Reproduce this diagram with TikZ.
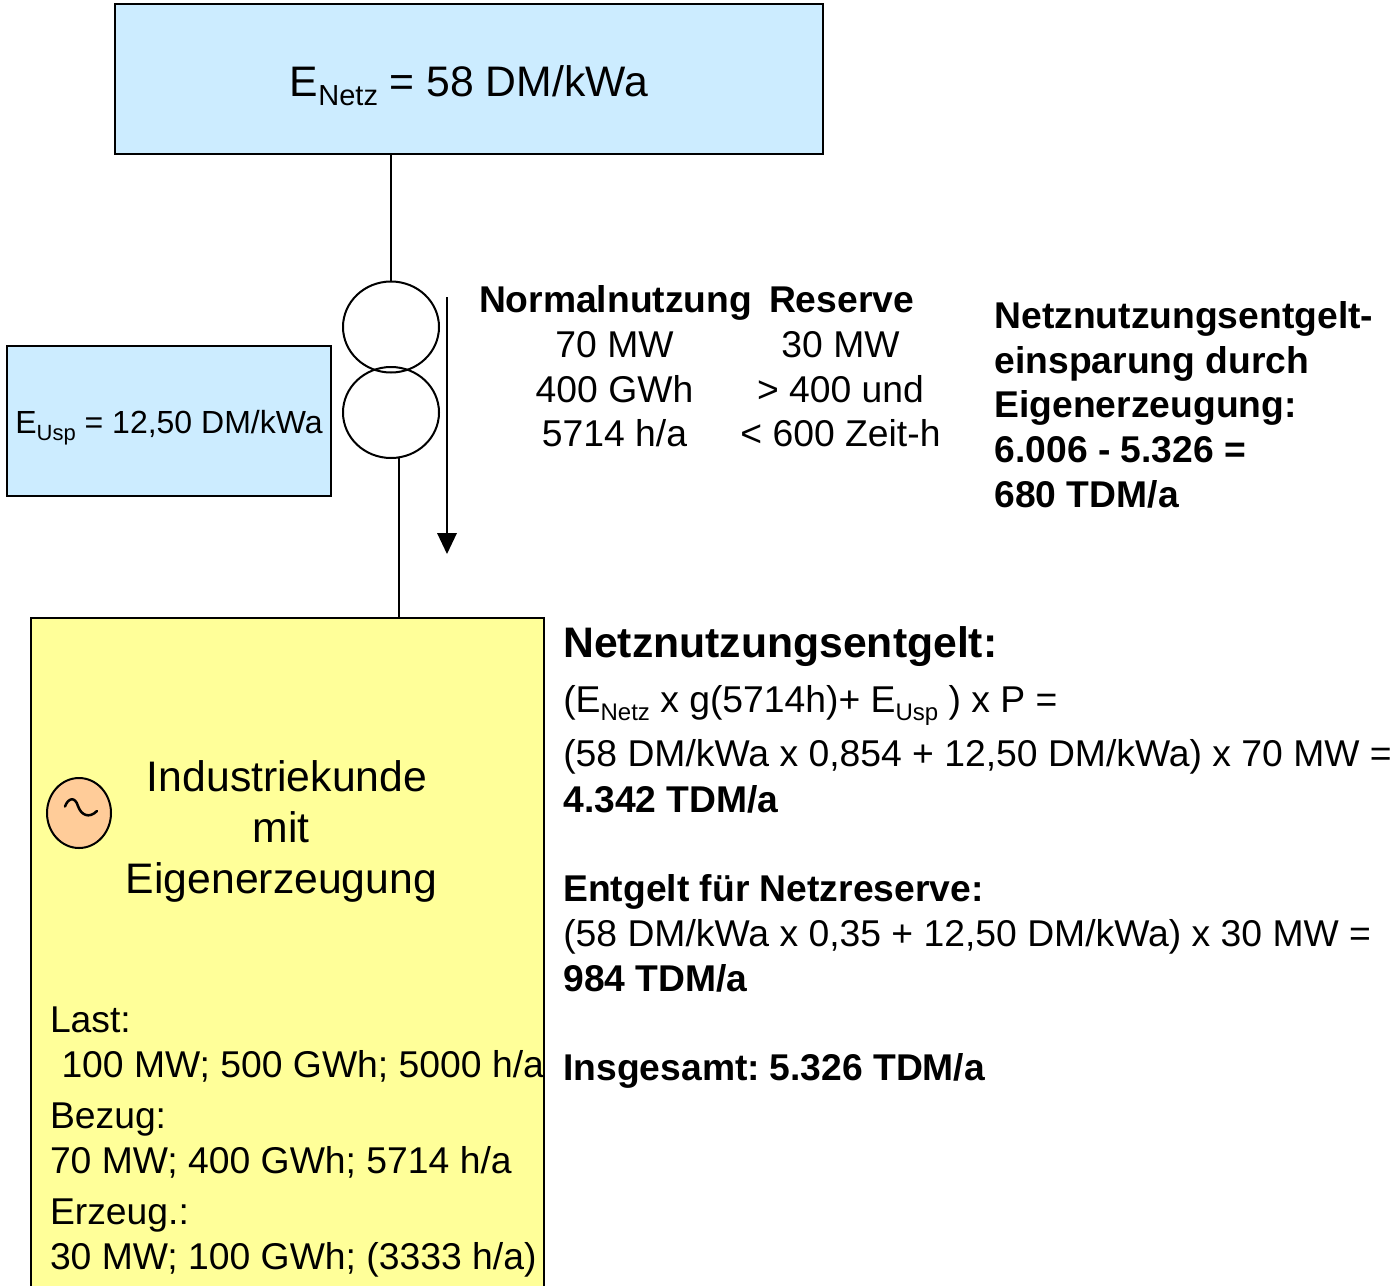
\documentclass[tikz,border=0pt]{standalone}
\usepackage{fontspec}
\usetikzlibrary{shapes.geometric}
\setmainfont{Liberation Sans}
\newcommand{\fs}[1]{\fontsize{#1}{#1}\selectfont}
\newcommand{\lsub}[1]{\raisebox{-0.22em}{\fontsize{29}{29}\selectfont #1}}
\newcommand{\msub}[1]{\raisebox{-0.22em}{\fontsize{24}{24}\selectfont #1}}
\newcommand{\ssub}[1]{\raisebox{-0.22em}{\fontsize{22}{22}\selectfont #1}}
\definecolor{boxblue}{RGB}{204,236,255}
\definecolor{boxyellow}{RGB}{255,255,153}
\definecolor{genfill}{RGB}{255,204,153}
\tikzset{
 x=1pt,y=-1pt,
 bluebox/.style={draw=black,line width=2pt,fill=boxblue},
 txt/.style={anchor=base west,inner sep=0pt,outer sep=0pt,font=\fs{37.3}},
 ctr/.style={anchor=base,inner sep=0pt,outer sep=0pt,font=\fs{37.3}},
 btxt/.style={txt,font=\fs{37.25}\bfseries},
 bctr/.style={ctr,font=\fs{37.25}\bfseries},
 big/.style={ctr,font=\fs{42.7}},
 line/.style={draw=black,line width=2pt},
 coil/.style={ellipse,draw=black,line width=2pt,minimum width=96pt,minimum height=91pt,inner sep=0pt}
}
\begin{document}
\begin{tikzpicture}
\useasboundingbox (0,0) rectangle (1399,1285);
\node[bluebox,minimum width=708pt,minimum height=150pt,inner sep=0pt] (netz) at (469,79) {};
\node[big] (netzt) at (469,96) {E\lsub{Netz} = 58 DM/kWa};
\node[bluebox,minimum width=324pt,minimum height=150pt,inner sep=0pt] (usp) at (169,420.8) {};
\node[ctr,font=\fs{32}] (uspt) at (169,433) {E\ssub{Usp} = 12,50 DM/kWa};
\node[coil] (c1) at (391,327) {};
\node[coil] (c2) at (391,412.5) {};
\draw[line] (netz.south -| c1.north) -- (c1.north);
\node[draw=black,line width=2pt,fill=boxyellow,minimum width=513pt,minimum height=680pt,inner sep=0pt] (kunde) at (287.3,958) {};
\coordinate (c2b) at (399,457.5);
\coordinate (ktop) at (399,618);
\draw[line] (c2b) -- (ktop);
\coordinate (as) at (447,297);
\coordinate (ae) at (447,534);
\draw[line] (as) -- (ae);
\fill[black] (437,533) -- (457,533) -- (447,554) -- cycle;
\node[bctr,anchor=base west] (a1) at (479,312) {Normalnutzung};
\node[bctr,anchor=base west] (a2) at (769,312) {Reserve};
\node[ctr] (n1) at (614.5,357) {70 MW};
\node[ctr] (n2) at (614.5,402) {400 GWh};
\node[ctr] (n3) at (614.5,446) {5714 h/a};
\node[ctr] (r1) at (840.5,357) {30 MW};
\node[ctr] (r2) at (840.5,402) {> 400 und};
\node[ctr] (r3) at (840.5,446) {< 600 Zeit-h};
\node[btxt] (e1) at (994.5,328) {Netznutzungsentgelt-};
\node[btxt] (e2) at (994.5,373) {einsparung durch};
\node[btxt] (e3) at (994.5,417) {Eigenerzeugung:};
\node[btxt] (e4) at (994.5,462) {6.006 - 5.326 =};
\node[btxt] (e5) at (994.5,507) {680 TDM/a};
\node[txt,font=\fs{42.7}\bfseries] (h1) at (563.3,657) {Netznutzungsentgelt:};
\node[txt] (f1) at (563.3,712) {(E\msub{Netz} x g(5714h)+ E\msub{Usp} ) x P =};
\node[txt] (f2) at (563.3,766) {(58 DM/kWa x 0,854 + 12,50 DM/kWa) x 70 MW =};
\node[btxt] (f3) at (563.3,812) {4.342 TDM/a};
\node[btxt] (g1) at (563.3,901) {Entgelt für Netzreserve:};
\node[txt] (g2) at (563.3,946) {(58 DM/kWa x 0,35 + 12,50 DM/kWa) x 30 MW =};
\node[btxt] (g3) at (563.3,991) {984 TDM/a};
\node[btxt] (g4) at (563.3,1080) {Insgesamt:\hspace{-4pt} 5.326 TDM/a};
\node[big] (k1) at (287,791) {Industriekunde};
\node[big] (k2) at (281,842) {mit};
\node[big] (k3) at (281.5,893) {Eigenerzeugung};
\node[txt] (l1) at (50,1032) {Last:};
\node[txt] (l2) at (61.5,1077) {100 MW; 500 GWh; 5000 h/a};
\node[txt] (l3) at (50,1128) {Bezug:};
\node[txt] (l4) at (50,1173) {70 MW; 400 GWh; 5714 h/a};
\node[txt] (l5) at (50,1224) {Erzeug.:};
\node[txt] (l6) at (50,1269) {30 MW; 100 GWh; (3333 h/a)};
\node[ellipse,draw=black,line width=2pt,fill=genfill,minimum width=64pt,minimum height=70pt,inner sep=0pt] (gen) at (79,813) {};
\draw[draw=black,line width=2.5pt,line cap=round] (65,806.5) .. controls (68,798) and (75,796) .. (78,806) .. controls (81,815) and (89,819) .. (97,811);
\end{tikzpicture}
\end{document}
